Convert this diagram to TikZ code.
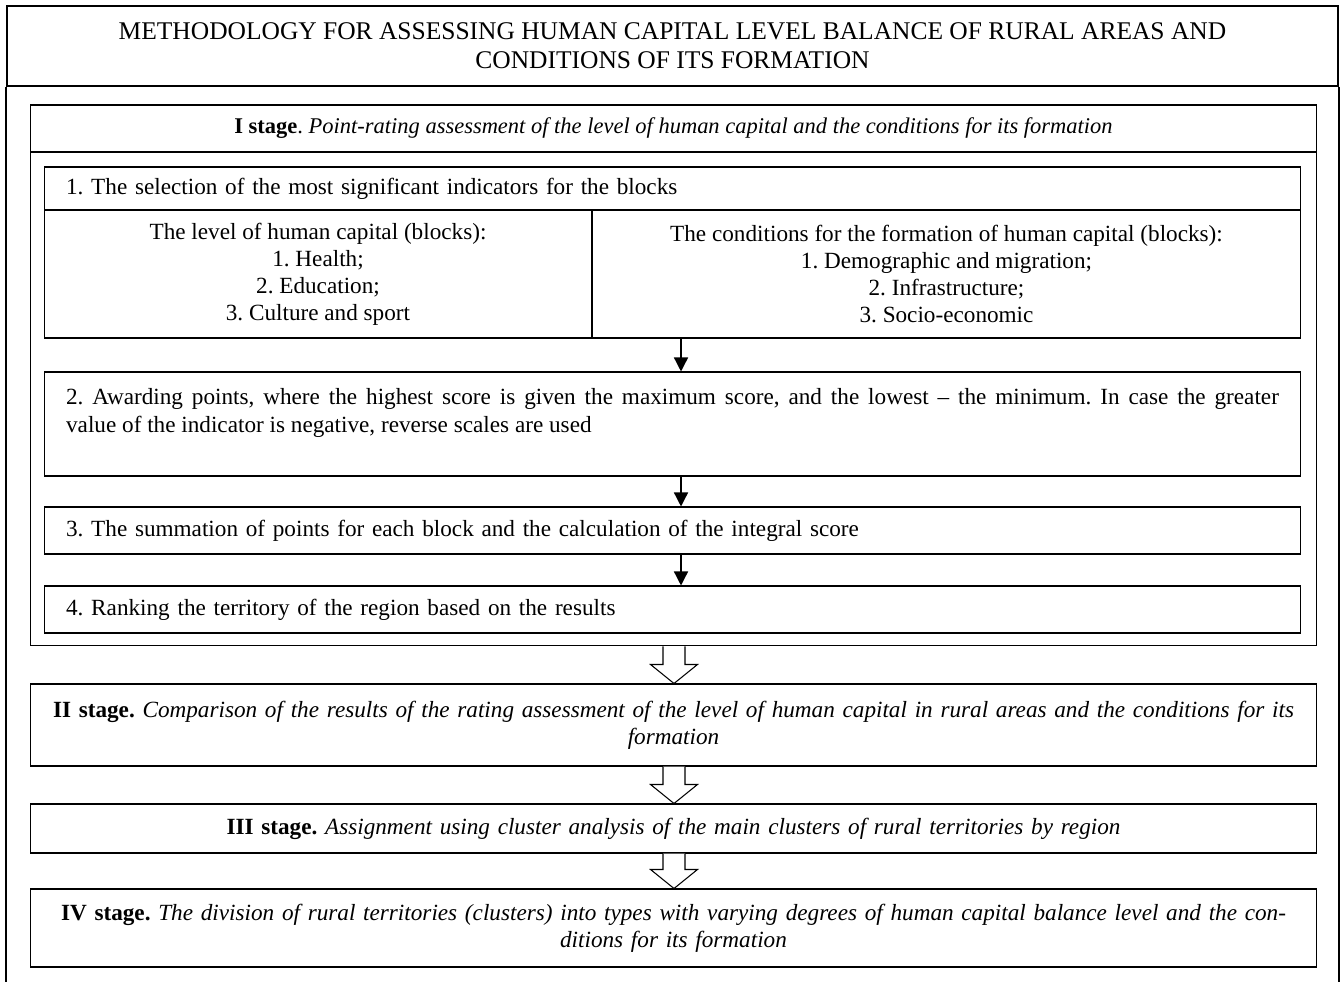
\documentclass[tikz,border=0pt]{standalone}
\usepackage{fontspec}
\setmainfont{Liberation Serif}
\usetikzlibrary{arrows.meta,calc}
\frenchspacing

\tikzset{
    box/.style={draw,line width=.6pt,inner sep=0pt,font=\fontsize{13.2}{15.4}\selectfont},
    titlebox/.style={draw,line width=1.1pt,inner sep=0pt,align=center,font=\fontsize{14.5}{16.5}\selectfont},
    stepbox/.style={box,text width=24.26cm,inner xsep=.44cm,align=left},
    stagebox/.style={box,minimum width=25.74cm,text width=25.3cm,align=center},
}

\begin{document}
\begin{tikzpicture}[x=0.02cm,y=-0.02cm]
\useasboundingbox (0,0) rectangle (1344,982);

\coordinate (bottom) at (0,982);
\coordinate (thin) at (681,0);
\coordinate (big) at (674,0);

%title and outer frame
\node[titlebox,minimum width=26.62cm,minimum height=1.6cm] (title) at (672.5,46){METHODOLOGY FOR ASSESSING HUMAN CAPITAL LEVEL BALANCE OF RURAL AREAS AND\\CONDITIONS OF ITS FORMATION};
\path[draw,line width=.8pt] (title.south west) -- (title.south west |- bottom);
\path[draw,line width=.8pt] (title.south east) -- (title.south east |- bottom);

%stage I
\node[box,minimum width=25.74cm,minimum height=10.82cm] (stageI) at (673.5,375.5){};
\node[box,minimum width=25.74cm,minimum height=.94cm,font=\fontsize{12.8}{15.4}\selectfont] (stageIhead) at (673.5,128.5){\textbf{I stage}. \textit{Point-rating assessment of the level of human capital and the conditions for its formation}};

\node[stepbox,minimum height=.86cm] (step1) at (672.5,188.5){1. The selection of the most significant indicators for the blocks};
\node[box,minimum width=10.96cm,minimum height=2.56cm,align=center] (lcol) at (318,274){The level of human capital (blocks):\\1. Health;\\2. Education;\\3. Culture and sport};
\node[box,minimum width=14.18cm,minimum height=2.56cm,align=center] (rcol) at (946.5,274){The conditions for the formation of human capital (blocks):\\1. Demographic and migration;\\2. Infrastructure;\\3. Socio-economic};
\node[stepbox,align=justify,minimum height=2.08cm] (step2) at (672.5,424){2. Awarding points, where the highest score is given the maximum score, and the lowest -- the minimum. In case the greater\linebreak value of the indicator is negative, reverse scales are used\par\mbox{}};
\node[stepbox,minimum height=.94cm] (step3) at (672.5,530.5){3. The summation of points for each block and the calculation of the integral score};
\node[stepbox,minimum height=.94cm] (step4) at (672.5,609.5){4. Ranking the territory of the region based on the results};

\foreach \a/\b in {rcol/step2,step2/step3,step3/step4}{
    \draw[-{Triangle[length=8pt,width=8pt]},line width=.8pt] (\a.south -| thin) -- (\b.north -| thin);
}

%stages II-IV
\node[stagebox,minimum height=1.64cm] (stageII) at (673.5,725){\textbf{II stage.} \textit{Comparison of the results of the rating assessment of the level of human capital in rural areas and the conditions for its}\\\textit{formation}};
\node[stagebox,minimum height=.98cm] (stageIII) at (673.5,828.5){\textbf{III stage.} \textit{Assignment using cluster analysis of the main clusters of rural territories by region}};
\node[stagebox,minimum height=1.56cm] (stageIV) at (673.5,928){\textbf{IV stage.} \textit{The division of rural territories (clusters) into types with varying degrees of human capital balance level and the con-}\\\textit{ditions for its formation}};

\foreach \a/\b in {stageI/stageII,stageII/stageIII,stageIII/stageIV}{
    \draw[fill=white,line width=.6pt] ($(\a.south -| big)+(-11,0)$) -- ($(\b.north -| big)+(-11,-19)$) -- ++(-12.5,0) -- (\b.north -| big) -- ++(23.5,-19) -- ++(-12.5,0) -- ($(\a.south -| big)+(11,0)$);
}

\end{tikzpicture}
\end{document}
